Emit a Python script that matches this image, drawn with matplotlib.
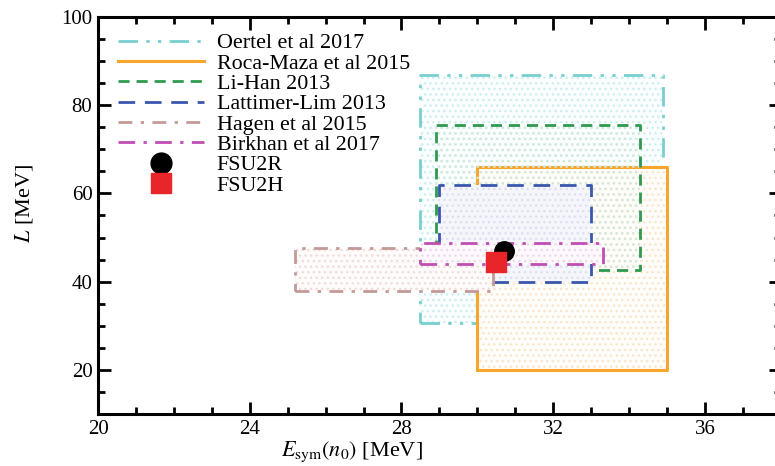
import matplotlib
matplotlib.use("Agg")
import matplotlib.pyplot as plt
from matplotlib.patches import Rectangle
from matplotlib.lines import Line2D
from matplotlib.ticker import MultipleLocator

plt.rcParams['font.family'] = ['Liberation Serif', 'DejaVu Serif']
plt.rcParams['mathtext.fontset'] = 'stix'
plt.rcParams['hatch.linewidth'] = 1.0

# Constraint boxes: symmetry energy range and slope range
labels = ["Oertel et al 2017", "Roca-Maza et al 2015", "Li-Han 2013",
          "Lattimer-Lim 2013", "Hagen et al 2015", "Birkhan et al 2017"]
esym_lo = [28.5, 30.0, 28.9, 29.0, 25.2, 28.5]
esym_hi = [34.9, 35.0, 34.3, 33.0, 30.4, 33.3]
L_lo = [30.6, 20.0, 42.6, 40.0, 37.8, 44.0]
L_hi = [86.8, 66.1, 75.6, 62.0, 47.7, 48.8]

# Model predictions
models = ["FSU2R", "FSU2H"]
model_esym = [30.7, 30.5]
model_L = [46.9, 44.5]

edge_colors = ["#78cfcf", "#f7a52c", "#2f9a4f", "#3a56ad", "#c49a98", "#c04fb3"]
base_colors = ["#fbfefe", "#fffdf9", "none", "#f5f6fc", "#fefbfb", "#fdf9fc"]
dot_colors = ["#cdeeee", "#f7e6cc", "#d3e8d9", "#dcdff0", "#f0dcdc", "#f0d8ec"]
styles = [(0, (7, 3, 1.2, 3, 1.2, 3)), '-', (0, (4, 2.5)), (0, (6, 3.5)),
          (0, (5, 3, 1.2, 3)), (0, (6, 3, 1.2, 3))]
widths = [2.0, 2.2, 2.0, 2.0, 2.0, 2.0]

fig = plt.figure(figsize=(7.75, 4.66), dpi=100)
ax = fig.add_axes([0.1265, 0.1116, 0.881, 0.852])

for i in range(len(labels)):
    x0, x1, y0, y1 = esym_lo[i], esym_hi[i], L_lo[i], L_hi[i]
    z = 2 + i * 0.1
    ax.add_patch(Rectangle((x0, y0), x1 - x0, y1 - y0, facecolor=base_colors[i],
                           edgecolor='none', lw=0, zorder=z))
    ax.add_patch(Rectangle((x0, y0), x1 - x0, y1 - y0, facecolor='none',
                           edgecolor=dot_colors[i], hatch='...', lw=0,
                           zorder=z + 0.01))
    ax.plot([x0, x1, x1, x0, x0], [y0, y0, y1, y1, y0], color=edge_colors[i],
            linestyle=styles[i], lw=widths[i], zorder=z + 0.02)

ax.plot(model_esym[0], model_L[0], 'o', color='black', ms=14, zorder=5)
ax.plot(model_esym[1], model_L[1], 's', color='#e8262a', ms=14, zorder=6)

handles = [Line2D([], [], color=edge_colors[i], linestyle=styles[i], lw=widths[i])
           for i in range(len(labels))]
handles.append(Line2D([], [], marker='o', color='black', ms=15, lw=0))
handles.append(Line2D([], [], marker='s', color='#e8262a', ms=14, lw=0))
ax.legend(handles, labels + models, loc='upper left', frameon=False,
          fontsize=15.8, handlelength=3.9, labelspacing=0.0, handletextpad=0.6,
          bbox_to_anchor=(0.01, 0.993), borderaxespad=0.2)

ax.set_xlim(20, 38)
ax.set_ylim(10, 100)
ax.xaxis.set_major_locator(MultipleLocator(4))
ax.xaxis.set_minor_locator(MultipleLocator(1))
ax.yaxis.set_minor_locator(MultipleLocator(5))
ax.set_yticks([20, 40, 60, 80, 100])
ax.tick_params(which='both', direction='in', top=True, right=True, width=2.0,
               labelsize=15)
ax.tick_params(which='major', length=9, pad=4)
ax.tick_params(which='minor', length=5)
for s in ax.spines.values():
    s.set_linewidth(2.2)

ax.set_xlabel(r'$E_{\rm sym}(n_0)$ [MeV]', fontsize=16, labelpad=0)
ax.xaxis.set_label_coords(0.372, -0.065)
ax.set_ylabel(r'$L$ [MeV]', fontsize=16)
ax.yaxis.set_label_coords(-0.092, 0.53)

fig.savefig("out.png", dpi=100)
